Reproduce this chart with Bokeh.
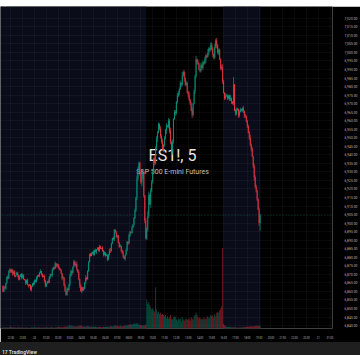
from bokeh.plotting import figure
from bokeh.models import Range1d, FixedTicker, NumeralTickFormatter, BoxAnnotation, Span, Label, Div, ColumnDataSource
from bokeh.layouts import column
from bokeh.embed import file_html
from bokeh.resources import INLINE

# ---------------- data ----------------
symbol = "ES1!"
interval = "5"
description = "S&P 500 E-mini Futures"
exchange = "CME"
currency = "USD"
snapshot_note = "mysitename created with TradingView.com, Jan 21, 2026 00:51 UTC-5"

first_bar_time = (21, 20)      # previous evening
bar_minutes = 5
session_open = (9, 30)
session_close = (16, 0)
day_labels = ["20", "21"]

price_ticks = list(range(6840, 7021, 5))

first_open = 6863.0
closes_a = [6860, 6862.5, 6861.75, 6865, 6868.5, 6867.5, 6872, 6873, 6871.25, 6872.5, 6870, 6871.5,
            6868.75, 6869.5, 6871, 6869.25, 6867, 6868.5, 6870.25, 6868, 6869.5, 6867.25, 6866.5,
            6864.75, 6866.5, 6864, 6863.25, 6863.75, 6861]
closes_b = [6863, 6864.75, 6864, 6866.5, 6865.75, 6868, 6869.5, 6868.75, 6871, 6872, 6870.25, 6868.5,
            6869, 6866.25, 6863, 6864.5, 6866, 6865.25, 6868.5, 6870, 6869.25, 6872.5, 6874, 6873.25,
            6876.5, 6875, 6875.75, 6874, 6873.25, 6872.5, 6870.75, 6867.5, 6868, 6863.5, 6860.25, 6858]
closes_c = [6861.5, 6860.75, 6864, 6869, 6871.75, 6871, 6874.5, 6877.5, 6875.25, 6876, 6873, 6871.25,
            6867, 6863.5, 6860, 6862.25, 6860.5, 6861.75, 6865.5, 6868, 6867.25, 6872, 6877, 6882]
closes_d = [6880.75, 6882.5, 6883.25, 6881.5, 6884, 6883, 6884.75, 6885.5, 6884, 6886.25, 6885, 6885.5,
            6883.75, 6881.5, 6883, 6880.75, 6881.25, 6878.75, 6881.5, 6884, 6883.5, 6888, 6891.25,
            6890.5, 6896, 6894.5, 6892, 6892.75, 6888.5, 6886, 6886.75, 6884, 6882.5, 6880.25, 6879,
            6881.5, 6884, 6889, 6888.25, 6893, 6895, 6894.25, 6897.5, 6899]
closes_e = [6903, 6907.5, 6915, 6926, 6931.5, 6935, 6929.75, 6924, 6927.25, 6929.5, 6916, 6901.5, 6891, 6896.5]
closes_f = [6904, 6916.5, 6911, 6919, 6924.25, 6930, 6938, 6935.25, 6944, 6949.5, 6953, 6958, 6955.25,
            6951, 6947.5, 6943, 6945.75, 6950, 6954.25, 6957, 6956.5, 6960, 6954, 6947.25, 6942, 6947.5,
            6961, 6965.25, 6964.5, 6971, 6974.25, 6976]
closes_g = [6978.5, 6982, 6981.25, 6986.5, 6988.5, 6985, 6981.25, 6982, 6976.5, 6975, 6972.25, 6970,
            6966, 6963.5, 6970, 6977.25, 6986, 6996, 6994.25, 6993]
closes_h = [6990, 6989.25, 6992.5, 6991, 6994.25, 6993.5, 6996, 6998.25, 6997.5, 7000, 7002.25, 7001.5,
            7004.5, 7002, 6998.75, 6997, 7003, 7007, 7004.25, 7000, 7001.25, 6996, 6990.5, 6991.25, 6983,
            6976.25, 6973, 6974.5]
closes_i = [6974.75, 6973, 6974.25, 6972.5, 6973, 6971.25, 6970, 6981, 6966, 6964, 6966.25, 6967, 6963,
            6965.25, 6966.5, 6966, 6967.25, 6965.5, 6963, 6962.25, 6960, 6956.75, 6953, 6950.25, 6946,
            6943.5, 6939, 6933.25, 6927, 6921.5, 6919, 6914, 6908, 6900, 6904.5]

# wick lengths in half points, one digit per bar
upper_wicks = ("12101 21102 11201 11201 21011 2011"
               "10211 20112 01121 10211 02112 01121 10212 0"
               "21132 10211 30212 11203 1120"
               "11021 20112 10211 02112 31021 12011 20131 02112 1021"
               "12143 22141 2132"
               "64232 31423 22132 41223 13242 31221 43"
               "23142 21322 41231 22413"
               "21322 13214 21322 14231 22134 213"
               "21224 10912 31022 11312 21223 12132 21122")
lower_wicks = ("11021 10211 20110 21102 11021 1201"
               "21101 12011 21021 10112 02110 21120 12011 1"
               "12021 31102 21130 21012 2110"
               "10211 02112 01121 10211 20112 01211 02110 21121 2011"
               "21232 14253 2312"
               "32142 21322 41232 13224 12321 42132 21"
               "21321 42213 22142 13221"
               "12213 21421 32213 22142 31223 121"
               "12122 31212 21321 12231 22132 31242 22139")

# volume in thousands of contracts
volume_k = (
    [1.2, 0.9, 1.0, 0.8, 1.1, 0.7, 0.9, 1.3]
    + [1.5, 1.1, 0.9, 1.2, 0.8, 1.0, 0.7, 0.9, 1.1, 0.8, 0.6, 0.9]
    + [0.8, 0.7, 1.0, 0.6, 0.9, 0.8, 0.5, 0.7, 0.6, 0.8, 0.9, 0.7]
    + [1.1, 0.8, 0.9, 0.7, 1.2, 0.8, 0.6, 0.9, 1.0, 0.7, 0.8, 0.9]
    + [0.9, 1.1, 0.8, 0.7, 1.0, 1.3, 0.9, 0.8, 0.7, 0.9, 1.2, 1.0]
    + [1.3, 1.6, 1.1, 1.4, 1.0, 1.2, 1.8, 1.5, 1.3, 1.7, 2.2, 1.9]
    + [3.1, 2.6, 2.0, 2.4, 1.8, 2.1, 1.7, 1.9, 2.3, 1.6, 2.8, 2.5]
    + [2.2, 1.9, 1.6, 2.0, 1.5, 1.8, 2.4, 2.1, 1.7, 1.4, 1.9, 1.6]
    + [1.5, 1.3, 1.7, 1.2, 1.4, 1.1, 1.6, 1.3, 1.0, 1.2, 1.5, 1.4]
    + [1.3, 1.5, 1.8, 1.4, 1.6, 2.0, 2.3, 1.9, 1.7, 2.5, 2.8, 2.2]
    + [2.0, 2.4, 1.9, 2.6, 2.2, 1.8, 2.1, 2.7, 3.0, 2.5, 2.9, 3.3]
    + [3.1, 3.6, 4.0, 3.4, 3.8, 4.5]
    + [4.5, 3.8, 5.0, 4.2, 3.5, 3.1, 2.9, 3.0, 2.7, 3.0, 2.6, 3.6]
    + [26, 22, 24, 21, 19, 17]
    + [18, 16, 15, 37, 17, 14, 15, 13, 14, 12, 13, 12]
    + [11, 12, 9, 11, 9, 10, 12, 9, 8, 10, 11, 10]
    + [8, 7, 9, 8, 9, 6, 10, 8, 7, 8, 9, 8]
    + [8, 9, 7, 10, 9, 8, 11, 12, 14, 12, 10, 9]
    + [10, 8, 9, 8, 10, 9, 8, 10, 11, 9, 10, 12]
    + [11, 12, 10, 13, 11, 14, 15, 14, 16, 18, 20, 72]
    + [4.0, 2.6, 2.0, 1.6, 1.4, 1.2, 1.3, 1.1, 1.0, 0.9, 1.1, 0.8]
    + [0.8, 0.9, 0.7, 0.7, 0.8, 0.9, 1.0, 0.8, 1.1, 1.2, 1.4, 1.5]
    + [1.6, 1.7, 1.5, 1.8, 2.0, 1.7, 2.1, 1.9, 2.2, 2.4, 2.1, 2.6, 2.3, 2.0]
)

# ---------------- build series ----------------
closes = closes_a + closes_b + closes_c + closes_d + closes_e + closes_f + closes_g + closes_h + closes_i
n = len(closes)
up_w = [int(ch) * 0.5 for ch in upper_wicks.replace(" ", "")]
lo_w = [int(ch) * 0.5 for ch in lower_wicks.replace(" ", "")]
assert len(up_w) == n and len(lo_w) == n and len(volume_k) == n, (n, len(up_w), len(lo_w), len(volume_k))

opens = [first_open] + closes[:-1]
highs = [max(o, c) + w for o, c, w in zip(opens, closes, up_w)]
lows = [min(o, c) - w for o, c, w in zip(opens, closes, lo_w)]
idx = list(range(n))

UP, DOWN = "#089981", "#f23645"
colors = [UP if c >= o else DOWN for o, c in zip(opens, closes)]

src = ColumnDataSource(dict(
    x=idx, open=opens, close=closes, high=highs, low=lows,
    top=[max(o, c) for o, c in zip(opens, closes)],
    bottom=[min(o, c) for o, c in zip(opens, closes)],
    color=colors, vol=volume_k,
))

start_min = first_bar_time[0] * 60 + first_bar_time[1]
def bar_index(hm):
    m = hm[0] * 60 + hm[1]
    return ((m - start_min) % 1440) // bar_minutes
open_idx = bar_index(session_open)
close_idx = bar_index(session_close)

# time ticks
tick_pos, tick_lab = [], {}
day_iter = iter(day_labels)
for i in range(-2, 336):
    m = start_min + bar_minutes * i
    if m % 60 == 0:
        h = (m // 60) % 24
        tick_pos.append(i)
        tick_lab[i] = next(day_iter) if h == 0 else f"{h:02d}:00"

# ---------------- top strip ----------------
BAR_GRAY = "#1f1f1f"
top = figure(width=360, height=6, x_range=Range1d(0, 360), y_range=Range1d(0, 6),
             output_backend="svg", toolbar_location=None,
             min_border_left=0, min_border_right=0, min_border_top=0, min_border_bottom=0,
             background_fill_color=BAR_GRAY, border_fill_color=BAR_GRAY, outline_line_color=None)
top.axis.visible = False
top.grid.visible = False
top.add_layout(Label(x=2, y=3, x_units="screen", y_units="screen", text=snapshot_note,
                     text_font_size="2.7px", text_color="#8f8f8f", text_font="Roboto",
                     text_baseline="middle"))

# ---------------- main figure ----------------
W, H = 360, 336
frame_w = W - 23
px_per_pt = 314 / 180.0
y_end = price_ticks[-1] + 12 / px_per_pt
y_start = price_ticks[-1] - 317 / px_per_pt

p = figure(width=W, height=H, x_range=Range1d(-2.5, frame_w - 2.5), y_range=Range1d(y_start, y_end),
           output_backend="svg", toolbar_location=None, y_axis_location="right",
           min_border_left=0, min_border_right=23, min_border_top=0, min_border_bottom=7,
           background_fill_color="#000000", border_fill_color="#000000", outline_line_color=None)

vol_top = max(volume_k) * 4.0
p.extra_y_ranges = {"vol": Range1d(0, vol_top)}

# sessions (extended hours shading)
navy = "#0a0d19"
p.add_layout(BoxAnnotation(left=-2.5, right=open_idx - 0.5, fill_color=navy, fill_alpha=1,
                           line_color=None, level="image"))
p.add_layout(BoxAnnotation(left=close_idx - 0.5, right=n - 0.5, fill_color=navy, fill_alpha=1,
                           line_color=None, level="image"))

# axes & grid
p.yaxis.ticker = FixedTicker(ticks=price_ticks)
p.yaxis.formatter = NumeralTickFormatter(format="0,0.00")
p.yaxis.major_label_text_font_size = "3.4px"
p.yaxis.major_label_text_color = "#b2b5be"
p.yaxis.major_label_standoff = 6
p.yaxis.axis_line_color = None
p.yaxis.major_tick_line_color = None
p.yaxis.minor_tick_line_color = None
p.yaxis.major_label_text_font = "Roboto"

p.xaxis.ticker = FixedTicker(ticks=tick_pos)
p.xaxis.major_label_overrides = tick_lab
p.xaxis.major_label_text_font_size = "2.6px"
p.xaxis.major_label_text_color = "#b2b5be"
p.xaxis.major_label_standoff = 2
p.xaxis.axis_line_color = None
p.xaxis.major_tick_line_color = None
p.xaxis.minor_tick_line_color = None
p.xaxis.major_label_text_font = "Roboto"

p.grid.grid_line_color = "#f2f2f2"
p.grid.grid_line_alpha = 0.035

# watermark
p.add_layout(Label(x=172, y=164, x_units="screen", y_units="screen", text=f"{symbol}, {interval}",
                   text_font_size="16px", text_color="#e4e4e4", text_align="center",
                   text_font="Roboto", level="underlay"))
p.add_layout(Label(x=172, y=153, x_units="screen", y_units="screen", text=description,
                   text_font_size="7px", text_color="#c0c0c0", text_align="center",
                   text_font="Roboto", level="underlay"))

# volume
p.vbar(x="x", width=0.9, top="vol", bottom=0, source=src, fill_color="color", fill_alpha=0.5,
       line_color=None, y_range_name="vol")

# candles
p.segment(x0="x", y0="low", x1="x", y1="high", source=src, line_color="color", line_width=0.7)
p.vbar(x="x", width=0.8, top="top", bottom="bottom", source=src, fill_color="color", line_color=None)

# last price line
p.add_layout(Span(location=closes[-1], dimension="width", line_color=UP, line_alpha=0.6,
                  line_dash="1 2", line_width=0.6))

# legend
o, h, l, c = opens[-1], highs[-1], lows[-1], closes[-1]
chg = c - closes[-2]
pct = chg / closes[-2] * 100
leg_col = UP if c >= o else DOWN
p.add_layout(Label(x=2, y=323.5, x_units="screen", y_units="screen",
                   text=f"{description} · {interval} · {exchange}", text_font_size="2.6px",
                   text_color="#d1d4dc", text_font="Roboto", level="overlay"))
p.add_layout(Label(x=50, y=323.5, x_units="screen", y_units="screen",
                   text=f"O{o:,.2f} H{h:,.2f} L{l:,.2f} C{c:,.2f} {chg:+.2f} ({pct:+.2f}%)",
                   text_font_size="2.6px", text_color=leg_col, text_font="Roboto", level="overlay"))
p.add_layout(Label(x=2, y=320, x_units="screen", y_units="screen", text="Vol",
                   text_font_size="2.6px", text_color="#d1d4dc", text_font="Roboto", level="overlay"))
p.add_layout(Label(x=8, y=320, x_units="screen", y_units="screen", text=f"{volume_k[-1]:.2f}K",
                   text_font_size="2.6px", text_color=leg_col, text_font="Roboto", level="overlay"))
p.add_layout(Label(x=349, y=325, x_units="screen", y_units="screen", text=currency,
                   text_font_size="2.6px", text_color="#b2b5be", text_align="center", text_font="Roboto",
                   border_line_color="#434651", border_line_width=0.5, padding=1, level="overlay"))

bottom_bar = Div(text='<div style="font-family:Roboto;font-weight:700;font-size:5px;line-height:13px;'
                      'color:#d1d4dc;padding-left:2px;white-space:nowrap">17 TradingView</div>',
                 width=360, height=13, margin=(0, 0, 0, 0),
                 styles={"background-color": BAR_GRAY, "overflow": "hidden"})

layout = column(top, p, bottom_bar, spacing=0)
open("out.html", "w").write(file_html(layout, INLINE))
